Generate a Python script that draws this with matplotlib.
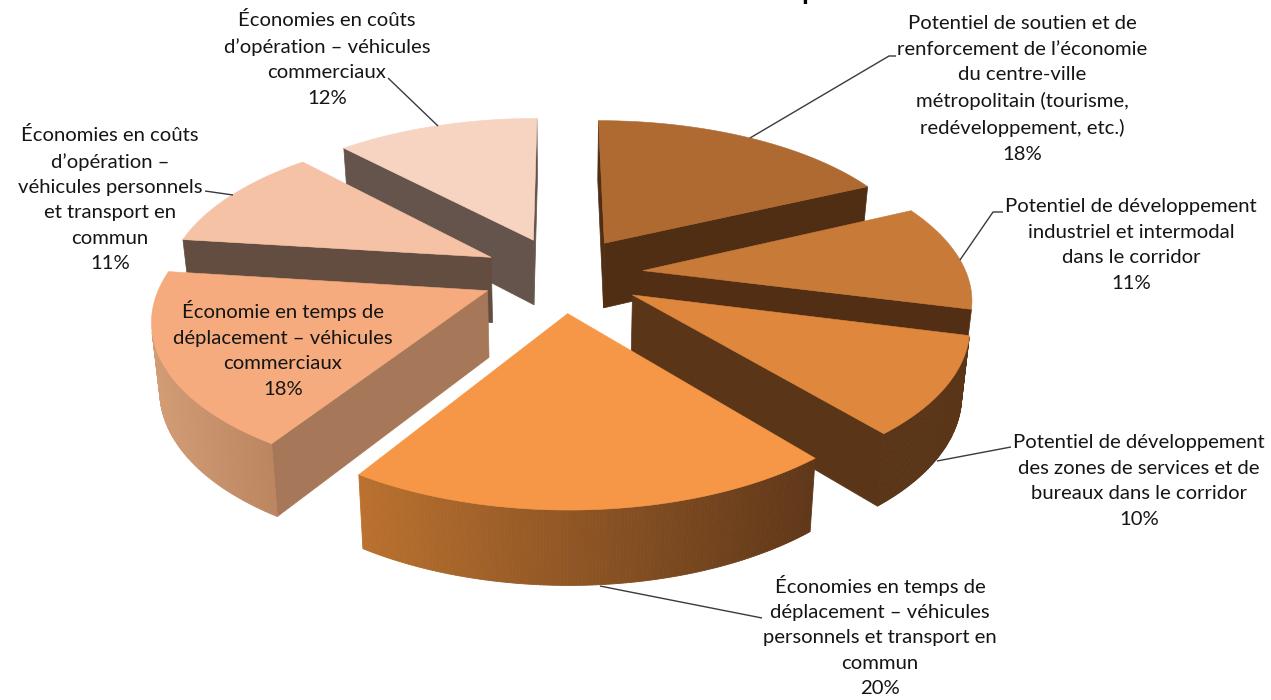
import numpy as np
import matplotlib
matplotlib.use("Agg")
import matplotlib.pyplot as plt
from matplotlib.patches import Polygon
from matplotlib.colors import to_rgb

# ---------- data ----------
values = [18, 11, 10, 20, 18, 11, 12]
names = [
    "Potentiel de soutien et de\nrenforcement de l’économie\ndu centre-ville\nmétropolitain (tourisme,\nredéveloppement, etc.)",
    "Potentiel de développement\nindustriel et intermodal\ndans le corridor",
    "Potentiel de développement\ndes zones de services et de\nbureaux dans le corridor",
    "Économies en temps de\ndéplacement – véhicules\npersonnels et transport en\ncommun",
    "Économie en temps de\ndéplacement – véhicules\ncommerciaux",
    "Économies en coûts\nd’opération –\nvéhicules personnels\net transport en\ncommun",
    "Économies en coûts\nd’opération – véhicules\ncommerciaux",
]
top_colors = ["#AE6A30", "#C87A38", "#DE873D", "#F59746", "#F5AB7D", "#F6C2A6", "#F7D3C1"]
cut_colors = ["#4F2E14", "#522F14", "#5A3518", "#633A1C", "#A67758", "#634D40", "#65544C"]
arc_left = ["#4F2E14", "#522F14", "#5A3518", "#BA712F", "#D29C75", "#634D40", "#65544C"]
arc_right = ["#4F2E14", "#522F14", "#5A3518", "#5F3719", "#BB8560", "#634D40", "#65544C"]

# ---------- projection of the exploded 3-D pie ----------
CX, CY, AY, BX, PERSP, EXPLODE, ROT = 562.3, 274.2, 151.1, 323.8, 0.159, 0.251, -0.001
HEIGHT = 66.0
SHRINK = 0.98
edges = np.radians(np.concatenate([[0], np.cumsum(values)]) * 360 / sum(values)) + ROT


def project(X, Y):
    w = 1 / (1 - PERSP * Y)
    x = CX + BX * X * w
    y = CY + AY * Y * w
    return x, y, CX + (x - CX) * SHRINK, y + HEIGHT * w ** 0.6


def shoelace(p):
    p = np.asarray(p)
    return np.sum(p[:, 0] * np.roll(p[:, 1], -1) - np.roll(p[:, 0], -1) * p[:, 1])


fig = plt.figure(figsize=(12.71, 7), dpi=100)
ax = fig.add_axes([0, 0, 1, 1])
ax.set_xlim(0, 1271)
ax.set_ylim(700, 0)
ax.axis("off")

order = [6, 0, 5, 1, 4, 2, 3]
z = 1
for i in order:
    a0, a1 = edges[i], edges[i + 1]
    mid = (a0 + a1) / 2
    ex, ey = EXPLODE * np.sin(mid), -EXPLODE * np.cos(mid)
    ang = np.linspace(a0, a1, max(int(np.degrees(a1 - a0)) * 2, 2))
    ax_, ay_, bx_, by_ = project(np.array([ex]), np.array([ey]))
    rx, ry, rbx, rby = project(ex + np.sin(ang), ey - np.cos(ang))
    apex, apex_b = (ax_[0], ay_[0]), (bx_[0], by_[0])
    # radial cut faces
    faces = [
        [apex, (rx[0], ry[0]), (rbx[0], rby[0]), apex_b],
        [(rx[-1], ry[-1]), apex, apex_b, (rbx[-1], rby[-1])],
    ]
    for f in faces:
        if shoelace(f) < 0:
            ax.add_patch(Polygon(f, closed=True, fc=cut_colors[i], ec=cut_colors[i], lw=0.5, zorder=z))
            z += 1
    # outer rim with horizontal gradient
    cl, cr = np.array(to_rgb(arc_left[i])), np.array(to_rgb(arc_right[i]))
    xmin, xmax = rx.min(), rx.max()
    for k in range(len(ang) - 1):
        q = [(rx[k], ry[k]), (rx[k + 1], ry[k + 1]), (rbx[k + 1], rby[k + 1]), (rbx[k], rby[k])]
        if shoelace(q) < 0:
            t = ((rx[k] + rx[k + 1]) / 2 - xmin) / max(xmax - xmin, 1)
            col = tuple(cl + (cr - cl) * t)
            ax.add_patch(Polygon(q, closed=True, fc=col, ec=col, lw=0.6, zorder=z))
    z += 1
    # top face
    poly = [apex] + list(zip(rx, ry))
    ax.add_patch(Polygon(poly, closed=True, fc=top_colors[i], ec=top_colors[i], lw=0.4, zorder=z))
    z += 1

# ---------- leader lines ----------
leaders = [
    [(896, 56), (889, 56), (750, 138)],
    [(1003, 212), (993, 212), (960, 260)],
    [(1011, 447), (937, 461)],
    [(762, 618), (620, 590), (600, 586)],
    [(205, 191), (233, 195)],
    [(388, 78), (438, 126)],
]
for L in leaders:
    xs, ys = zip(*L)
    ax.plot(xs, ys, color="#3A3A3A", lw=1.0, zorder=50, solid_capstyle="butt")

# ---------- labels ----------
label_pos = [(1022, 89), (1131, 245), (1139, 481), (880, 636), (283, 349), (110, 199), (327, 59)]
for name, v, (x, y) in zip(names, values, label_pos):
    ax.text(x, y, f"{name}\n{v}%", ha="center", va="center", family="Lato",
            fontsize=14.55, color="#151515", linespacing=1.6, zorder=60)

# clipped title: only its descender is left in the picture
ax.text(809, -1, "p", ha="center", va="baseline", family="Lato", fontweight="bold",
        fontsize=20, color="black", zorder=60, clip_on=False)

fig.savefig("out.png", dpi=100)
